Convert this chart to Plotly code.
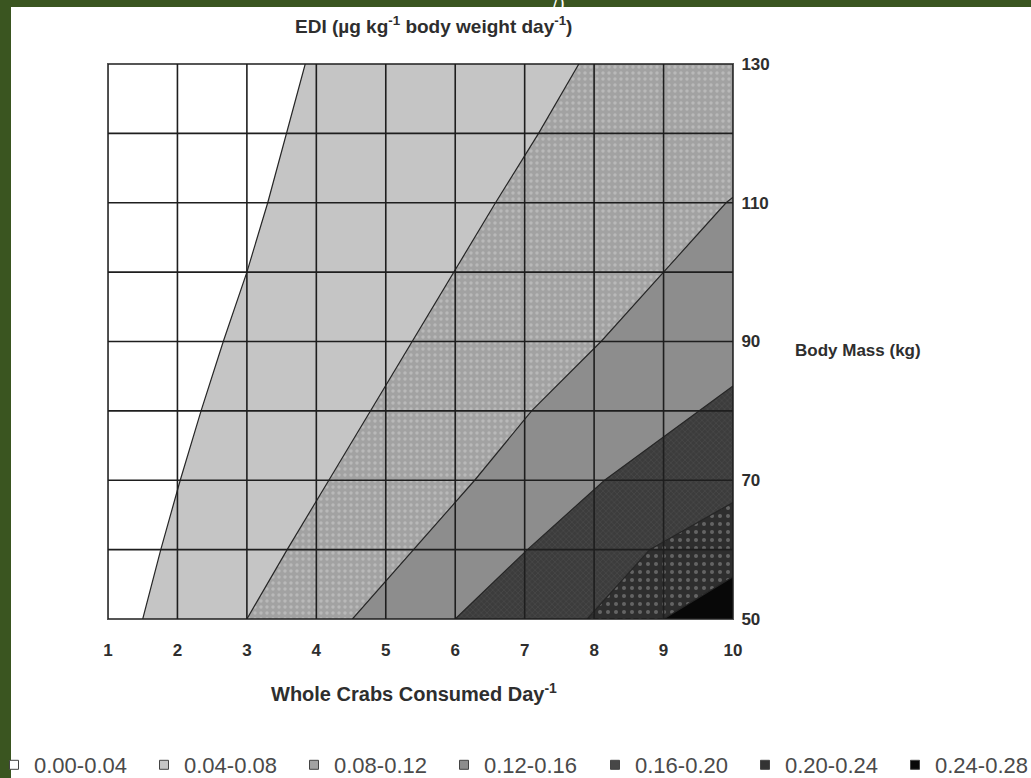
import plotly.graph_objects as go

# ---- data ----
# EDI bands (legend labels)
band_labels = ["0.00-0.04", "0.04-0.08", "0.08-0.12", "0.12-0.16",
               "0.16-0.20", "0.20-0.24", "0.24-0.28"]

# contour boundaries: crabs/day (x) where each EDI level is crossed, at body mass (y)
b004_mass = [50, 60, 70, 80, 90, 100, 110, 120, 130]
b004_crab = [1.5, 1.76, 2.04, 2.34, 2.66, 3.0, 3.3, 3.57, 3.84]

b008_mass = [50, 60, 70, 80, 90, 100, 110, 120, 130]
b008_crab = [3.0, 3.58, 4.18, 4.78, 5.38, 5.98, 6.58, 7.2, 7.78]

b012_mass = [50, 60, 70, 80, 90, 100, 110, 110.8]
b012_crab = [4.52, 5.4, 6.28, 7.1, 8.1, 9.0, 9.9, 10.0]

b016_mass = [50, 60, 70, 80, 83.6]
b016_crab = [6.0, 7.04, 8.15, 9.5, 10.0]

b020_mass = [50, 60, 66.8]
b020_crab = [7.9, 8.8, 10.0]

b024_mass = [50, 56.1]
b024_crab = [9.0, 10.0]

x_ticks = [1, 2, 3, 4, 5, 6, 7, 8, 9, 10]
y_grid = [50, 60, 70, 80, 90, 100, 110, 120, 130]
y_labels = ["50", "", "70", "", "90", "", "110", "", "130"]

# ---- styling ----
band_colors = ["#ffffff", "#c5c5c5", "#a2a2a2", "#8d8d8d", "#474747", "#333333", "#080808"]
band_patterns = [None, None,
                 dict(shape=".", fgcolor="#d0d0d0", bgcolor="#a2a2a2", size=6, solidity=0.25),
                 None,
                 dict(shape="x", fgcolor="#5a5a5a", bgcolor="#3c3c3c", size=4, solidity=0.3),
                 dict(shape=".", fgcolor="#9a9a9a", bgcolor="#2e2e2e", size=8, solidity=0.2),
                 None]

boundaries = [(b004_crab, b004_mass), (b008_crab, b008_mass), (b012_crab, b012_mass),
              (b016_crab, b016_mass), (b020_crab, b020_mass), (b024_crab, b024_mass)]

XMIN, XMAX = x_ticks[0], x_ticks[-1]
YMIN, YMAX = y_grid[0], y_grid[-1]

fig = go.Figure()

# cumulative regions: everything to the right of each boundary
for i, (bx, by) in enumerate(boundaries):
    k = i + 1
    px = list(bx)
    py = list(by)
    if by[-1] >= YMAX:
        px += [XMAX]
        py += [YMAX]
    px += [XMAX, bx[0]]
    py += [YMIN, YMIN]
    kw = dict(fillcolor=band_colors[k])
    if band_patterns[k] is not None:
        kw["fillpattern"] = band_patterns[k]
    fig.add_trace(go.Scatter(x=px, y=py, mode="lines", fill="toself",
                             line=dict(width=0, color=band_colors[k]),
                             showlegend=False, hoverinfo="skip", **kw))

# contour lines
for i, (bx, by) in enumerate(boundaries):
    fig.add_trace(go.Scatter(x=bx, y=by, mode="lines",
                             line=dict(color="#262626", width=1.2),
                             showlegend=False, hoverinfo="skip"))

# legend entries (split over two legends so they stay on one row)
for j, (lab, col) in enumerate(zip(band_labels, band_colors)):
    fig.add_trace(go.Scatter(x=[None], y=[None], mode="markers", name=lab,
                             legend="legend" if j < 4 else "legend2",
                             marker=dict(symbol="square", size=9, color=col,
                                         line=dict(color="#444", width=1))))

# grid lines above the fills
shapes = []
for xv in x_ticks:
    shapes.append(dict(type="line", xref="x", yref="y", x0=xv, x1=xv, y0=YMIN, y1=YMAX,
                       line=dict(color="#1e1e1e", width=1.6), layer="above"))
for yv in y_grid:
    shapes.append(dict(type="line", xref="x", yref="y", x0=XMIN, x1=XMAX, y0=yv, y1=yv,
                       line=dict(color="#1e1e1e", width=1.6), layer="above"))

# page frame: green border with white sheet
W, H = 1031, 778
L, R, T, B = 108, 733, 64, 619
pw, ph = R - L, B - T
def px2x(p):
    return (p - L) / pw
def py2y(p):
    return (B - p) / ph
shapes.append(dict(type="rect", xref="paper", yref="paper",
                   x0=px2x(11), x1=px2x(W + 5), y0=py2y(H + 5), y1=py2y(7),
                   fillcolor="white", line=dict(width=0), layer="below"))

FONT = "Liberation Sans"
TXT = "#2e2e2e"

annotations = [
    dict(text="<b>EDI (µg kg<sup>-1</sup> body weight day<sup>-1</sup>)</b>",
         x=px2x(433), y=py2y(25), xref="paper", yref="paper", showarrow=False,
         font=dict(family=FONT, size=19, color=TXT), xanchor="center", yanchor="middle"),
    dict(text="<b>Whole Crabs Consumed Day<sup>-1</sup></b>",
         x=px2x(414), y=py2y(692), xref="paper", yref="paper", showarrow=False,
         font=dict(family=FONT, size=20, color=TXT), xanchor="center", yanchor="middle"),
    dict(text="<b>Body Mass (kg)</b>",
         x=px2x(793), y=py2y(350), xref="paper", yref="paper", showarrow=False,
         font=dict(family=FONT, size=17, color=TXT), xanchor="left", yanchor="middle"),
    dict(text="/)", x=px2x(558), y=py2y(3), xref="paper", yref="paper", showarrow=False,
         font=dict(family="DejaVu Serif", size=18, color="white"), xanchor="center",
         yanchor="middle"),
]

legend_common = dict(orientation="h", xanchor="left", yanchor="middle",
                     entrywidth=105, entrywidthmode="pixels", itemwidth=30,
                     font=dict(family=FONT, size=22, color="#4a4a4a"),
                     bgcolor="rgba(0,0,0,0)")

fig.update_layout(
    width=W, height=H,
    margin=dict(l=L, r=W - R, t=T, b=H - B, autoexpand=False),
    paper_bgcolor="#3a5520",
    plot_bgcolor="white",
    showlegend=True,
    legend=dict(x=px2x(-6), y=py2y(765), **legend_common),
    legend2=dict(x=px2x(595), y=py2y(765), **legend_common),
    shapes=shapes,
    annotations=annotations,
    xaxis=dict(range=[XMIN, XMAX], tickvals=x_ticks, ticktext=[f"<b>{v}</b>" for v in x_ticks],
               showgrid=False, zeroline=False, showline=True, linecolor="#555", linewidth=1,
               mirror=True, ticks="", ticklabelstandoff=16,
               tickfont=dict(family=FONT, size=17, color=TXT)),
    yaxis=dict(range=[YMIN, YMAX], tickvals=y_grid, ticktext=[f"<b>{t}</b>" if t else "" for t in y_labels],
               side="right", showgrid=False, zeroline=False, showline=True, linecolor="#555",
               linewidth=1, mirror=True, ticks="", ticklabelstandoff=4,
               tickfont=dict(family=FONT, size=17, color=TXT)),
)

fig.write_html("out.html", config={"displayModeBar": False},
               post_script="document.body.style.margin='0';document.body.style.overflow='hidden';")
